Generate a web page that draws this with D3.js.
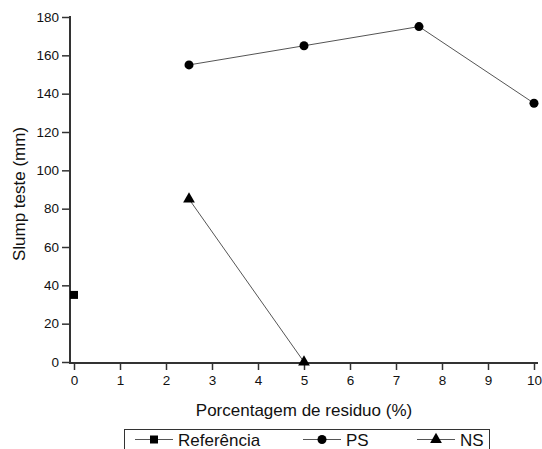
<!DOCTYPE html>
<html>
  <head>
    <meta charset="utf-8">
    <title></title>
    <script src="https://cdn.jsdelivr.net/npm/d3@7"></script>
    <style>
      body { margin: 0; background: #fff; }
      text { font-family: "Liberation Sans", Arial, sans-serif; fill: #111; }
    </style>
  </head>
  <body>
    <script type="text/javascript">

    var width = 542,
        height = 449;

    // data
    var refX = [0],
        refY = [35];
    var psX = [2.5, 5, 7.5, 10],
        psY = [155, 165, 175, 135];
    var nsX = [2.5, 5],
        nsY = [85, 0];

    var xTicks = [0, 1, 2, 3, 4, 5, 6, 7, 8, 9, 10],
        yTicks = [0, 20, 40, 60, 80, 100, 120, 140, 160, 180];

    var legendNames = ["Referência", "PS", "NS"];

    var x = d3.scaleLinear().domain([0, 10]).range([74, 534]);
    var y = d3.scaleLinear().domain([0, 180]).range([362, 17]);

    var svg = d3.select("body").append("svg")
        .attr("width", width)
        .attr("height", height);

    // axes
    var xAxis = svg.append("g")
        .attr("transform", "translate(0,363)")
        .call(d3.axisBottom(x).tickValues(xTicks).tickSize(7).tickPadding(5).tickFormat(d3.format("d")));

    var yAxis = svg.append("g")
        .attr("transform", "translate(70,0)")
        .call(d3.axisLeft(y).tickValues(yTicks).tickSize(8).tickPadding(3).tickFormat(d3.format("d")));

    [xAxis, yAxis].forEach(function(a) {
      a.select(".domain").remove();
      a.selectAll(".tick line").attr("stroke", "#333").attr("stroke-width", 1.5);
      a.selectAll(".tick text").style("font-size", "13.5px").attr("fill", "#111");
    });

    // axis lines drawn by hand so they meet at the corner
    svg.append("line")
        .attr("x1", 70).attr("x2", 538)
        .attr("y1", 363).attr("y2", 363)
        .attr("stroke", "#333").attr("stroke-width", 2);
    svg.append("line")
        .attr("x1", 70).attr("x2", 70)
        .attr("y1", 16).attr("y2", 364)
        .attr("stroke", "#333").attr("stroke-width", 2);

    svg.append("text")
        .attr("x", 304).attr("y", 416)
        .attr("text-anchor", "middle")
        .style("font-size", "17px")
        .text("Porcentagem de residuo (%)");

    svg.append("text")
        .attr("transform", "translate(25,194) rotate(-90)")
        .attr("text-anchor", "middle")
        .style("font-size", "17px")
        .text("Slump teste (mm)");

    // series
    var line = d3.line()
        .x(function(d) { return x(d[0]); })
        .y(function(d) { return y(d[1]); });

    function pairs(xs, ys) {
      return xs.map(function(v, i) { return [v, ys[i]]; });
    }

    var series = [
      {name: legendNames[0], data: pairs(refX, refY), symbol: d3.symbolSquare, size: 64},
      {name: legendNames[1], data: pairs(psX, psY), symbol: d3.symbolCircle, size: 64},
      {name: legendNames[2], data: pairs(nsX, nsY), symbol: d3.symbolTriangle, size: 60}
    ];

    series.forEach(function(s) {
      svg.append("path")
          .datum(s.data)
          .attr("fill", "none")
          .attr("stroke", "#555")
          .attr("stroke-width", 1)
          .attr("d", line);

      svg.selectAll(null)
          .data(s.data).enter()
          .append("path")
          .attr("transform", function(d) { return "translate(" + x(d[0]) + "," + y(d[1]) + ")"; })
          .attr("d", d3.symbol().type(s.symbol).size(s.size))
          .attr("fill", "#000");
    });

    // legend
    var legend = svg.append("g");
    legend.append("rect")
        .attr("x", 124.5).attr("y", 429.5)
        .attr("width", 365).attr("height", 30)
        .attr("fill", "none")
        .attr("stroke", "#333")
        .attr("stroke-width", 1);

    var legendX = [135, 303, 417];
    series.forEach(function(s, i) {
      var g = legend.append("g").attr("transform", "translate(" + legendX[i] + ",439.5)");
      g.append("line")
          .attr("x1", 0).attr("x2", 38)
          .attr("stroke", "#555").attr("stroke-width", 1);
      g.append("path")
          .attr("transform", "translate(19,0)")
          .attr("d", d3.symbol().type(s.symbol).size(s.size))
          .attr("fill", "#000");
      g.append("text")
          .attr("x", 43).attr("y", 6)
          .style("font-size", "17px")
          .text(s.name);
    });

    </script>
  </body>
</html>
